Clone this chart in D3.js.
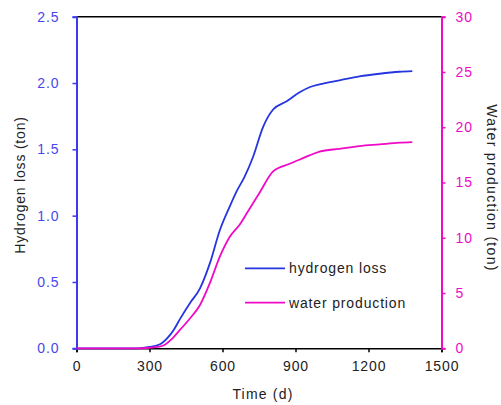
<!DOCTYPE html>
<html>
<head>
<meta charset="UTF-8">
<style>
  body { margin: 0; background: #fff; }
  svg text { font-family: "Liberation Sans", Arial, sans-serif; }
</style>
</head>
<body>
<svg></svg>
<script src="https://d3js.org/d3.v7.min.js"></script>
<script>
// data
let hydroTime = [0, 250, 300, 343, 375, 400, 425, 466, 507, 548, 589, 630, 660, 690, 725, 767, 808, 862, 917, 960, 999, 1081, 1163, 1245, 1327, 1380];
let hydroLoss = [0, 0, 0.01, 0.03, 0.08, 0.14, 0.22, 0.34, 0.45, 0.64, 0.89, 1.07, 1.19, 1.29, 1.44, 1.67, 1.8, 1.86, 1.93, 1.97, 1.99, 2.02, 2.05, 2.07, 2.085, 2.09];
let waterTime = [0, 250, 300, 340, 365, 390, 425, 466, 507, 548, 589, 630, 671, 705, 753, 808, 876, 931, 999, 1081, 1163, 1245, 1327, 1380];
let waterProd = [0, 0, 0.05, 0.15, 0.35, 0.8, 1.66, 2.7, 3.9, 5.9, 8.3, 10.1, 11.2, 12.4, 14.1, 16.0, 16.7, 17.2, 17.8, 18.05, 18.3, 18.45, 18.6, 18.65];
let xTicks = [0, 300, 600, 900, 1200, 1500];
let yLeftTicks = [0, 0.5, 1.0, 1.5, 2.0, 2.5];
let yRightTicks = [0, 5, 10, 15, 20, 25, 30];

let width = 501, height = 405;
let blue = "#2535e0", blueAxis = "#3a3af0", blueText = "#4848ea";
let pink = "#f00ac8";

let svg = d3.select("svg")
    .attr("width", width)
    .attr("height", height);

let x = d3.scaleLinear().domain([0, 1500]).range([76.5, 441.5]);
let yL = d3.scaleLinear().domain([0, 2.5]).range([348.3, 16.7]);
let yR = d3.scaleLinear().domain([0, 30]).range([348.3, 16.7]);

// top frame line
svg.append("line")
    .attr("x1", x(0)).attr("x2", x(1500))
    .attr("y1", yL(2.5)).attr("y2", yL(2.5))
    .attr("stroke", "#000").attr("stroke-width", 1.5);

// bottom axis
let xAxis = svg.append("g")
    .attr("transform", `translate(0,${yL(0)})`)
    .call(d3.axisBottom(x).tickValues(xTicks).tickSize(4).tickPadding(9).tickFormat(d3.format("d")));
xAxis.select(".domain").attr("stroke", "#000").attr("stroke-width", 1.5);
xAxis.selectAll(".tick line").attr("stroke", "#000").attr("stroke-width", 1.5);
xAxis.selectAll("text").attr("font-size", 14).attr("fill", "#222")
    .style("letter-spacing", "0.9px")
    .style("font-family", "Liberation Sans, Arial, sans-serif");

// left axis
let leftAxis = svg.append("g")
    .attr("transform", `translate(${x(0)},0)`)
    .call(d3.axisLeft(yL).tickValues(yLeftTicks).tickSize(4).tickPadding(13).tickFormat(d3.format(".1f")));
leftAxis.select(".domain").attr("stroke", blueAxis).attr("stroke-width", 2);
leftAxis.selectAll(".tick line").attr("stroke", blueAxis).attr("stroke-width", 1.5);
leftAxis.selectAll("text").attr("font-size", 14).attr("fill", blueText)
    .style("letter-spacing", "0.9px")
    .style("font-family", "Liberation Sans, Arial, sans-serif");

// right axis
let rightAxis = svg.append("g")
    .attr("transform", `translate(${x(1500)},0)`)
    .call(d3.axisRight(yR).tickValues(yRightTicks).tickSize(4).tickPadding(10).tickFormat(d3.format("d")));
rightAxis.select(".domain").attr("stroke", pink).attr("stroke-width", 2);
rightAxis.selectAll(".tick line").attr("stroke", pink).attr("stroke-width", 1.5);
rightAxis.selectAll("text").attr("font-size", 14).attr("fill", pink)
    .style("letter-spacing", "0.9px")
    .style("font-family", "Liberation Sans, Arial, sans-serif");

// curves
let lineL = d3.line().x(d => x(d[0])).y(d => yL(d[1])).curve(d3.curveMonotoneX);
let lineR = d3.line().x(d => x(d[0])).y(d => yR(d[1])).curve(d3.curveMonotoneX);

svg.append("path")
    .datum(hydroTime.map((t, i) => [t, hydroLoss[i]]))
    .attr("d", lineL)
    .attr("fill", "none").attr("stroke", blue).attr("stroke-width", 1.8);

svg.append("path")
    .datum(waterTime.map((t, i) => [t, waterProd[i]]))
    .attr("d", lineR)
    .attr("fill", "none").attr("stroke", pink).attr("stroke-width", 1.8);

// axis titles
svg.append("text")
    .attr("x", 263).attr("y", 399)
    .attr("text-anchor", "middle").attr("font-size", 14).attr("fill", "#222")
    .style("letter-spacing", "1.2px")
    .text("Time (d)");

svg.append("text")
    .attr("transform", "translate(25,185) rotate(-90)")
    .attr("text-anchor", "middle").attr("font-size", 14).attr("fill", "#222")
    .style("letter-spacing", "0.8px")
    .text("Hydrogen loss (ton)");

svg.append("text")
    .attr("transform", "translate(487,188) rotate(90)")
    .attr("text-anchor", "middle").attr("font-size", 14).attr("fill", "#222")
    .style("letter-spacing", "1.3px")
    .text("Water production (ton)");

// legend
let legend = [["hydrogen loss", blue, 268.3], ["water production", pink, 302.7]];
legend.forEach(l => {
  svg.append("line")
      .attr("x1", 245).attr("x2", 285)
      .attr("y1", l[2]).attr("y2", l[2])
      .attr("stroke", l[1]).attr("stroke-width", 1.8);
  svg.append("text")
      .attr("x", 289).attr("y", l[2] + 5)
      .attr("font-size", 14).attr("fill", "#222")
      .style("letter-spacing", "0.85px")
      .text(l[0]);
});
</script>
</body>
</html>
